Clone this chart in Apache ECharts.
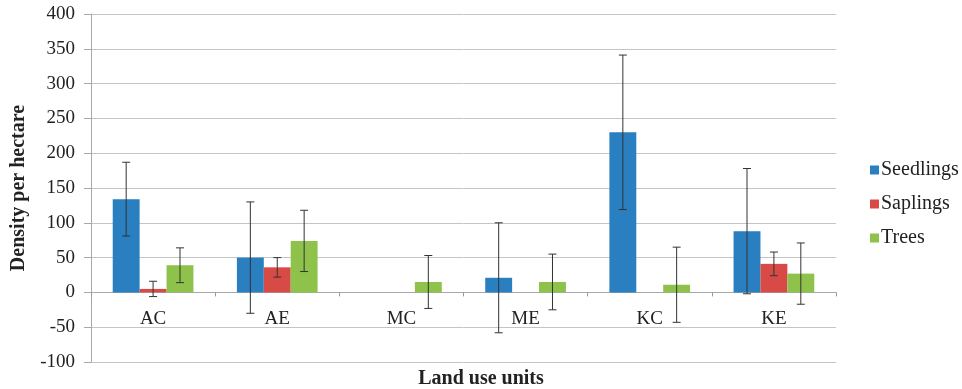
<!DOCTYPE html>
<html>
<head>
<meta charset="utf-8">
<script src="https://cdn.jsdelivr.net/npm/echarts@6/dist/echarts.min.js"></script>
<style>
  html, body { margin: 0; padding: 0; background: #fff; }
  #chart { width: 962px; height: 389px; }
</style>
</head>
<body>
<div id="chart"></div>
<script>
// data
var categories = ['AC', 'AE', 'MC', 'ME', 'KC', 'KE'];
var seedlings = [134, 50, 0, 21, 230, 88];
var saplings = [5, 36, 0, 0, 0, 41];
var trees = [39, 74, 15, 15, 11, 27];
// error bars (+/-), null = no bar
var seedlingsErr = [53, 80, null, 79, 111, 90];
var saplingsErr = [11, 14, null, null, null, 17];
var treesErr = [25, 44, 38, 40, 54, 44];
var yTicks = { min: -100, max: 400, interval: 50 };

var serif = '"Liberation Serif", "DejaVu Serif", serif';
var colors = ['#2a7fc0', '#d84a45', '#8ec24a'];

var gridTop = 14, gridBottom = 27, chartH = 389;
// shift the category axis up to the zero line
var plotH = chartH - gridTop - gridBottom;
var zeroOffset = -plotH * (0 - yTicks.min) / (yTicks.max - yTicks.min);

// rows for the error bar series: [catIndex, value, err, seriesIndex]
var errRows = [];
[[seedlings, seedlingsErr], [saplings, saplingsErr], [trees, treesErr]].forEach(function (pair, si) {
  pair[0].forEach(function (v, i) {
    if (pair[1][i] != null) errRows.push([i, v, pair[1][i], si]);
  });
});

var myChart = echarts.init(document.getElementById('chart'));
var option = {
  animation: false,
  color: colors,
  title: {
    text: 'Land use units',
    left: 'center',
    top: 364,
    textStyle: { fontFamily: serif, fontSize: 20, fontWeight: 'bold', color: '#222' }
  },
  legend: {
    orient: 'vertical',
    left: 865,
    top: 155,
    itemWidth: 9,
    itemHeight: 9,
    itemGap: 14,
    icon: 'rect',
    data: ['Seedlings', 'Saplings', 'Trees'],
    textStyle: { fontFamily: serif, fontSize: 20, color: '#222', padding: [0, 0, 0, -3] }
  },
  grid: { left: 91, right: 126, top: gridTop, bottom: gridBottom },
  xAxis: {
    type: 'category',
    data: categories,
    position: 'bottom',
    offset: zeroOffset,
    axisLine: { onZero: false, lineStyle: { color: '#a8a8a8' } },
    axisTick: { show: true, length: 4, lineStyle: { color: '#999' } },
    axisLabel: { fontFamily: serif, fontSize: 19, color: '#222', margin: 17 },
    splitLine: { show: false }
  },
  yAxis: {
    type: 'value',
    min: yTicks.min,
    max: yTicks.max,
    interval: yTicks.interval,
    name: 'Density per hectare',
    nameLocation: 'middle',
    nameGap: 58,
    nameTextStyle: { fontFamily: serif, fontSize: 20, fontWeight: 'bold', color: '#222' },
    axisLine: { show: true, lineStyle: { color: '#a8a8a8' } },
    axisTick: { show: true, length: 7, lineStyle: { color: '#a8a8a8' } },
    axisLabel: { fontFamily: serif, fontSize: 19, color: '#222', margin: 16 },
    splitLine: { lineStyle: { color: '#c4c4c4', width: 1 } }
  },
  series: [
    { name: 'Seedlings', type: 'bar', data: seedlings, barGap: '0%', barCategoryGap: '35%' },
    { name: 'Saplings', type: 'bar', data: saplings, barGap: '0%', barCategoryGap: '35%' },
    { name: 'Trees', type: 'bar', data: trees, barGap: '0%', barCategoryGap: '35%' },
    {
      type: 'custom',
      data: errRows,
      z: 10,
      silent: true,
      renderItem: function (params, api) {
        var idx = api.value(0), v = api.value(1), e = api.value(2), si = api.value(3);
        var catW = api.size([1, 0])[0];
        var barW = catW * 0.65 / 3;
        var x = api.coord([idx, v])[0] + (si - 1) * barW;
        var yTop = api.coord([idx, v + e])[1];
        var yBot = api.coord([idx, v - e])[1];
        var cap = 4;
        var style = { stroke: '#333', lineWidth: 1 };
        return {
          type: 'group',
          children: [
            { type: 'line', shape: { x1: x, y1: yTop, x2: x, y2: yBot }, style: style },
            { type: 'line', shape: { x1: x - cap, y1: yTop, x2: x + cap, y2: yTop }, style: style },
            { type: 'line', shape: { x1: x - cap, y1: yBot, x2: x + cap, y2: yBot }, style: style }
          ]
        };
      }
    }
  ]
};
myChart.setOption(option);
window.addEventListener('resize', function () {
  myChart.resize();
});
</script>
</body>
</html>
